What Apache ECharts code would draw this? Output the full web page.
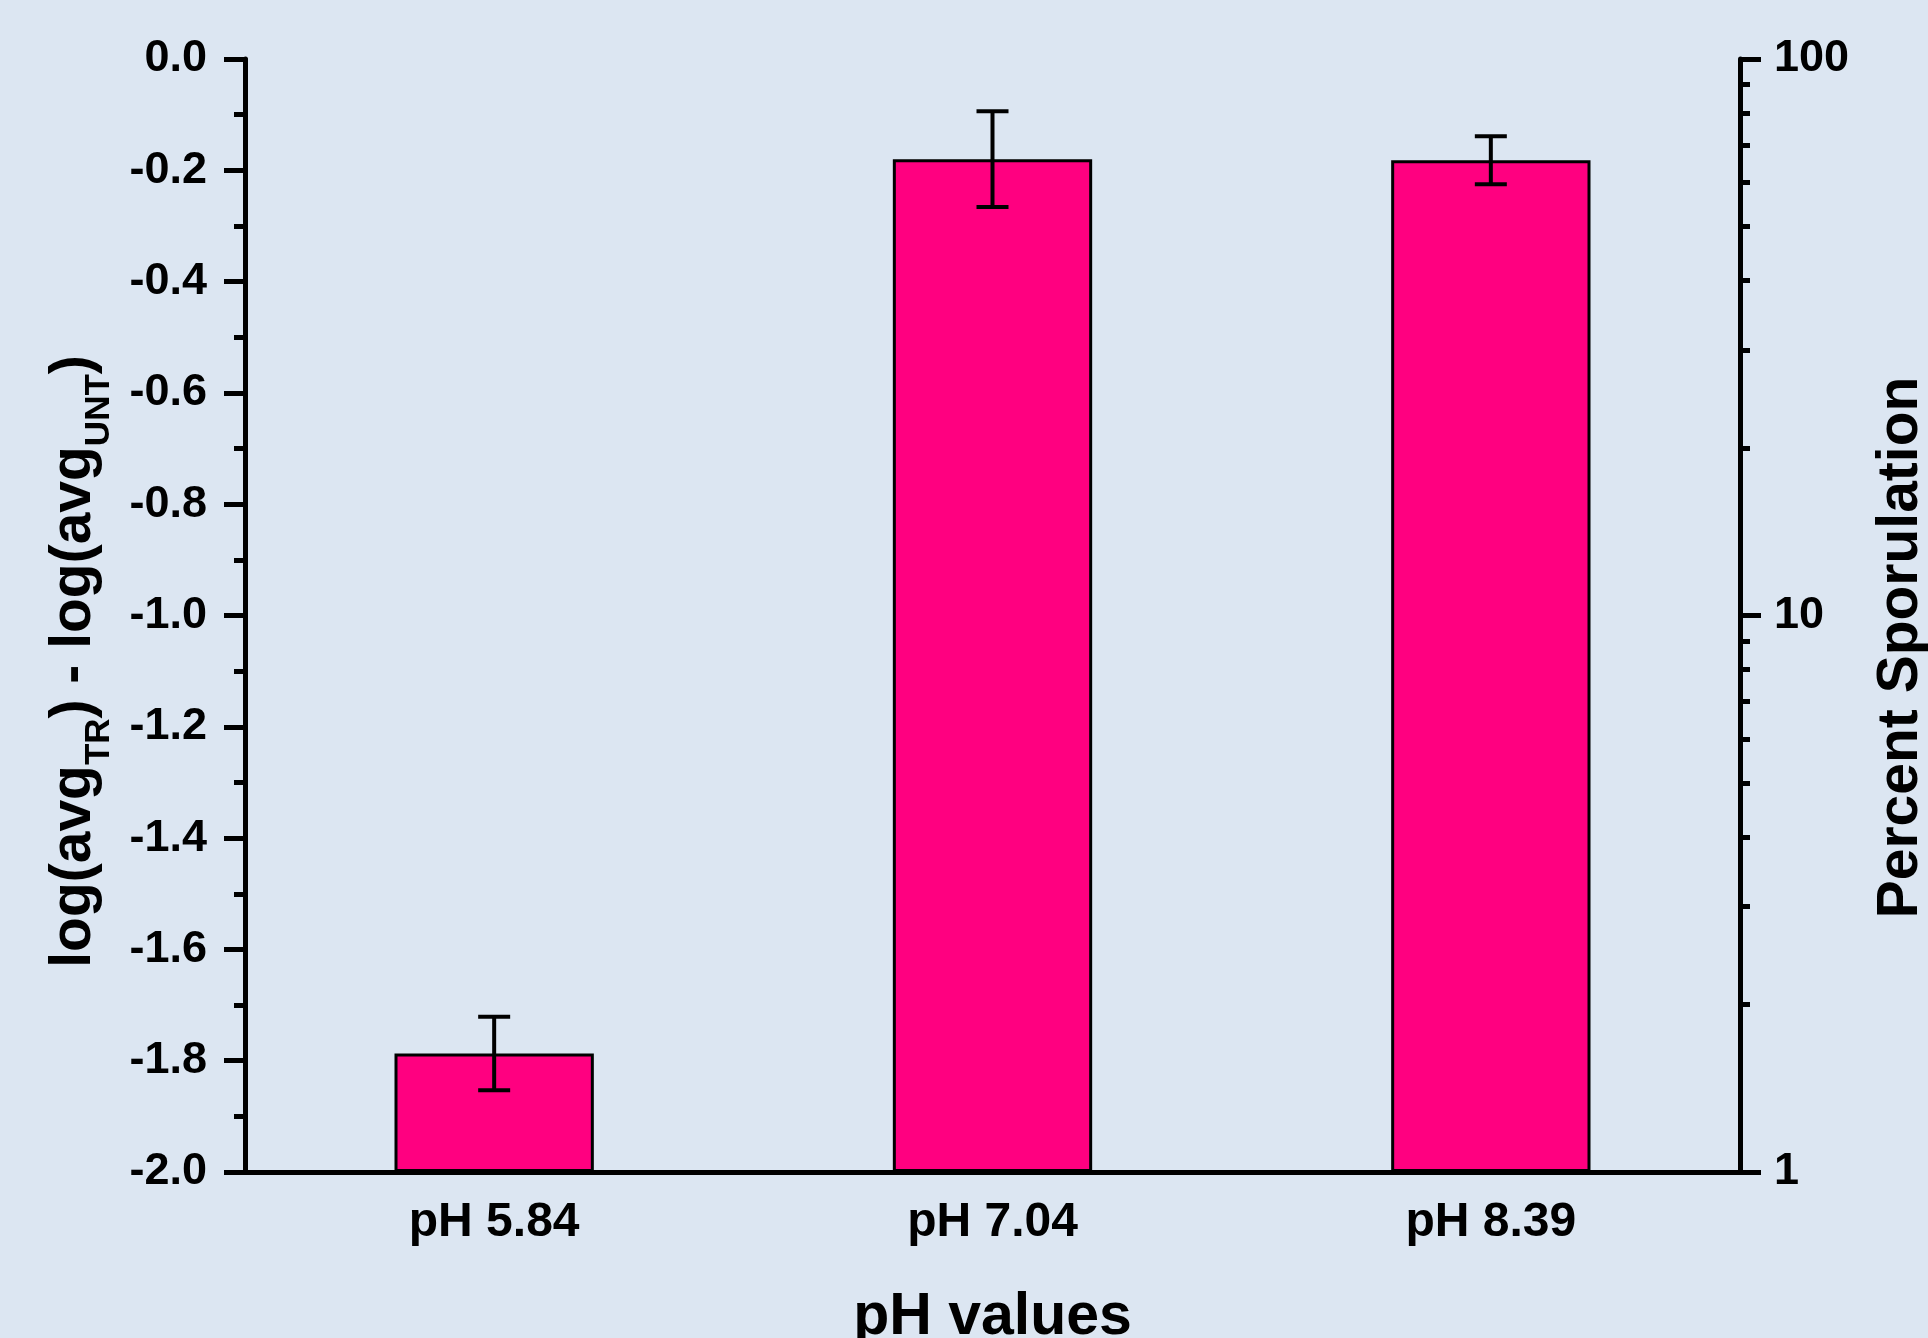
<!DOCTYPE html>
<html>
<head>
<meta charset="utf-8">
<script src="https://cdn.jsdelivr.net/npm/echarts@6/dist/echarts.min.js"></script>
<style>
html,body{margin:0;padding:0;background:#DCE6F2;}
#chart{width:1928px;height:1338px;}
</style>
</head>
<body>
<div id="chart"></div>
<script>
const categories = ['pH 5.84', 'pH 7.04', 'pH 8.39'];
const logRatio = [-1.787, -0.180, -0.182];
const logRatioErr = [0.066, 0.086, 0.043];
const percentMajorTicks = [1, 10, 100];
const percentMinorTicks = [2, 3, 4, 5, 6, 7, 8, 9, 20, 30, 40, 50, 60, 70, 80, 90];

const FONT = 'Liberation Sans, Arial, Helvetica, sans-serif';
const chart = echarts.init(document.getElementById('chart'));

const errData = categories.map((c, i) => [i, logRatio[i], logRatioErr[i]]);

chart.setOption({
  backgroundColor: '#DCE6F2',
  animation: false,
  grid: { left: 245, right: 188, top: 59, bottom: 166, containLabel: false, outerBoundsMode: 'none' },
  xAxis: {
    type: 'category',
    data: categories,
    name: 'pH values',
    nameLocation: 'middle',
    nameGap: 114,
    nameTextStyle: { fontFamily: FONT, fontWeight: 'bold', fontSize: 59, color: '#000', lineHeight: 64 },
    axisLine: { show: true, onZero: false, lineStyle: { color: '#000', width: 5 } },
    axisTick: { show: false },
    axisLabel: { margin: 25, fontFamily: FONT, fontWeight: 'bold', fontSize: 48, color: '#000', lineHeight: 52 },
    splitLine: { show: false }
  },
  yAxis: [
    {
      type: 'value',
      min: -2, max: 0, interval: 0.2,
      startValue: -2,
      position: 'left',
      name: '{m|log(avg}{s|TR}{m|) - log(avg}{s|UNT}{m|)}',
      nameLocation: 'middle',
      nameRotate: 90,
      nameGap: 139,
      nameMoveOverlap: false,
      nameTextStyle: {
        fontFamily: FONT, fontWeight: 'bold', fontSize: 57, color: '#000',
        padding: [0, 92, 0, 0],
        rich: {
          m: { fontFamily: FONT, fontWeight: 'bold', fontSize: 57, color: '#000', lineHeight: 64 },
          s: { fontFamily: FONT, fontWeight: 'bold', fontSize: 35, color: '#000', lineHeight: 35, padding: [40, 0, 0, 0], verticalAlign: 'top' }
        }
      },
      axisLine: { show: true, onZero: false, lineStyle: { color: '#000', width: 5 } },
      axisTick: { show: true, inside: false, length: 21, lineStyle: { color: '#000', width: 5 } },
      minorTick: { show: true, splitNumber: 2, length: 11, lineStyle: { color: '#000', width: 5 } },
      axisLabel: {
        margin: 38, fontFamily: FONT, fontWeight: 'bold', fontSize: 45, color: '#000',
        padding: [0, 0, 8, 0],
        formatter: v => v.toFixed(1)
      },
      splitLine: { show: false }
    },
    {
      type: 'log',
      logBase: 10,
      min: 1, max: 100,
      position: 'right',
      name: 'Percent Sporulation',
      nameLocation: 'middle',
      nameRotate: 90,
      nameGap: 129,
      nameTextStyle: { fontFamily: FONT, fontWeight: 'bold', fontSize: 57, color: '#000', lineHeight: 64, padding: [0, 64, 0, 0] },
      axisLine: { show: true, lineStyle: { color: '#000', width: 5 } },
      axisTick: { show: true, inside: false, length: 21, customValues: percentMajorTicks, lineStyle: { color: '#000', width: 5 } },
      minorTick: { show: false },
      axisLabel: {
        margin: 34, fontFamily: FONT, fontWeight: 'bold', fontSize: 45, color: '#000',
        padding: [0, 0, 8, 0],
        customValues: percentMajorTicks,
        formatter: v => String(Math.round(v))
      },
      splitLine: { show: false }
    },
    {
      type: 'log',
      logBase: 10,
      min: 1, max: 100,
      position: 'right',
      axisLine: { show: false },
      axisTick: { show: true, inside: false, length: 10, customValues: percentMinorTicks, lineStyle: { color: '#000', width: 5 } },
      minorTick: { show: false },
      axisLabel: { show: false },
      splitLine: { show: false }
    }
  ],
  series: [
    {
      type: 'bar',
      data: logRatio,
      barWidth: '40%',
      yAxisIndex: 0,
      itemStyle: { color: '#FF0080', borderColor: '#000', borderWidth: 3 },
      z: 2
    },
    {
      type: 'custom',
      yAxisIndex: 0,
      data: errData,
      z: 3,
      renderItem: (params, api) => {
        const x = api.value(0), v = api.value(1), e = api.value(2);
        const top = api.coord([x, v + e]);
        const bot = api.coord([x, v - e]);
        const hw = 16;
        const st = { stroke: '#000', lineWidth: 4 };
        return {
          type: 'group',
          children: [
            { type: 'line', shape: { x1: top[0], y1: top[1], x2: bot[0], y2: bot[1] }, style: st },
            { type: 'line', shape: { x1: top[0] - hw, y1: top[1], x2: top[0] + hw, y2: top[1] }, style: st },
            { type: 'line', shape: { x1: bot[0] - hw, y1: bot[1], x2: bot[0] + hw, y2: bot[1] }, style: st }
          ]
        };
      }
    }
  ]
});
</script>
</body>
</html>
